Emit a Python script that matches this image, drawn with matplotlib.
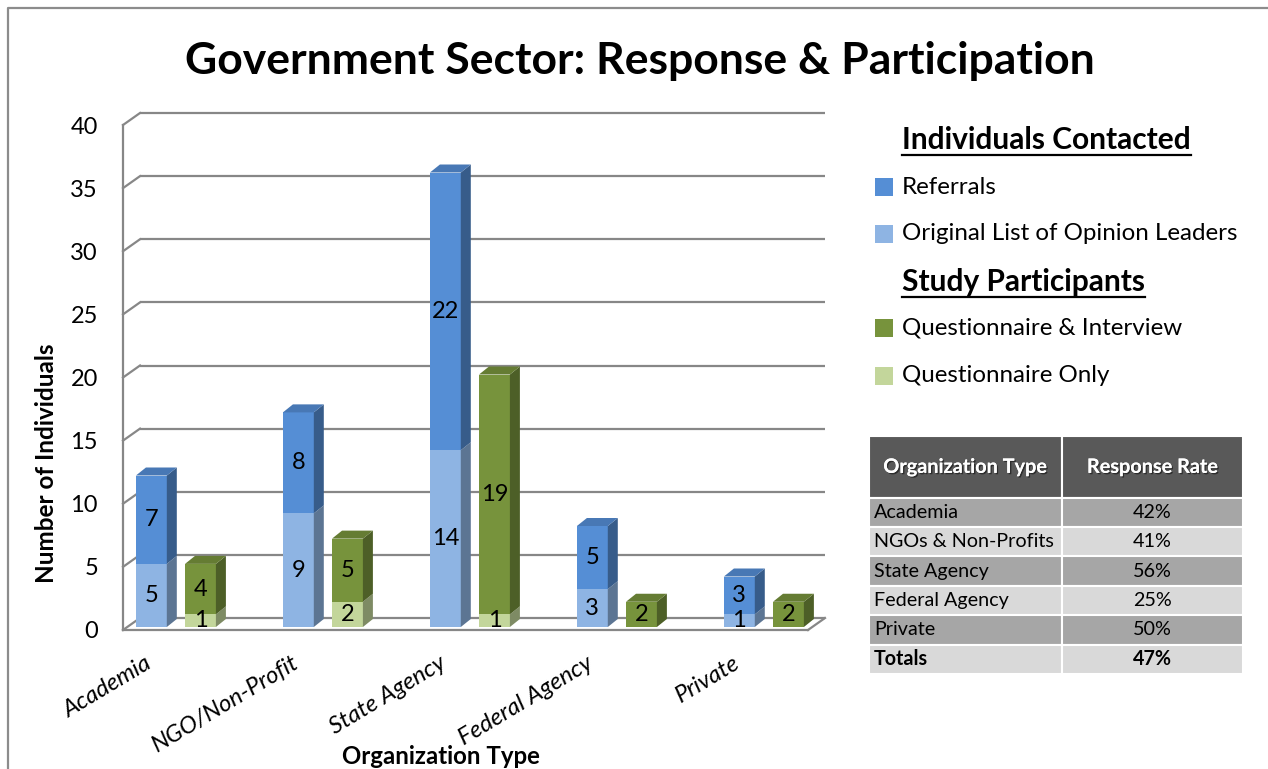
import matplotlib
matplotlib.use("Agg")
import matplotlib.pyplot as plt
from matplotlib.patches import Polygon, Rectangle
from matplotlib.lines import Line2D
from matplotlib.transforms import ScaledTranslation
import matplotlib.patheffects as pe

plt.rcParams['font.family'] = ['Lato', 'DejaVu Sans']

# ---- data -------------------------------------------------------------
categories = ["Academia", "NGO/Non-Profit", "State Agency", "Federal Agency", "Private"]
original_list = [5, 9, 14, 3, 1]          # Original List of Opinion Leaders
referrals = [7, 8, 22, 5, 3]              # Referrals
questionnaire_only = [1, 2, 1, 0, 0]      # Questionnaire Only
questionnaire_interview = [4, 5, 19, 2, 2]  # Questionnaire & Interview

y_ticks = [0, 5, 10, 15, 20, 25, 30, 35, 40]

table_header = ["Organization Type", "Response Rate"]
table_orgs = ["Academia", "NGOs & Non-Profits", "State Agency", "Federal Agency", "Private", "Totals"]
table_rates = ["42%", "41%", "56%", "25%", "50%", "47%"]

# ---- style ------------------------------------------------------------
C_REF = "#558ED5"
C_ORIG = "#8EB4E3"
C_QI = "#77933C"
C_QO = "#C3D69B"
GRID = "#878787"
TEXT = "#000000"


def shade(hex_color, f):
    r, g, b = (int(hex_color[i:i + 2], 16) for i in (1, 3, 5))
    return "#%02x%02x%02x" % (int(r * f), int(g * f), int(b * f))


W, H, DPI = 1268, 769, 100
fig = plt.figure(figsize=(W / DPI, H / DPI), dpi=DPI)
fig.patch.set_facecolor("white")


def fx(px):
    return px / W


def fy(py):
    return 1 - py / H


# outer frame (top and left edges)
fig.add_artist(Line2D([fx(8), fx(8), 1.0], [0.0, fy(8), fy(8)],
                      color="#8c8c8c", lw=1.6, transform=fig.transFigure))

# ---- main 3-D style bar chart ------------------------------------------
ax_l, ax_r, ax_t, ax_b = 123, 808, 125, 630
ax = fig.add_axes([fx(ax_l), fy(ax_b), (ax_r - ax_l) / W, (ax_b - ax_t) / H])
xmin, xmax = -0.36, 4.30
ymin, ymax = 0, 40
ax.set_xlim(xmin, xmax)
ax.set_ylim(ymin, ymax)
for s in ax.spines.values():
    s.set_visible(False)
ax.set_facecolor("none")

px_x = (ax_r - ax_l) / (xmax - xmin)
px_y = (ax_b - ax_t) / (ymax - ymin)
wall_dx, wall_dy = 17 / px_x, 12 / px_y
bar_dx, bar_dy = 10 / px_x, 8 / px_y

glw = 1.6
# back wall gridlines with their diagonal joins to the front axis
for v in y_ticks:
    ax.plot([xmin + wall_dx, xmax + wall_dx], [v + wall_dy, v + wall_dy],
            color=GRID, lw=glw, clip_on=False, zorder=1, solid_capstyle="butt")
    ax.plot([xmin, xmin + wall_dx], [v, v + wall_dy],
            color=GRID, lw=glw, clip_on=False, zorder=1)
# front vertical axis and floor edges
ax.plot([xmin, xmin], [ymin, ymax], color=GRID, lw=glw, clip_on=False, zorder=1)
ax.plot([xmin, xmax], [0, 0], color=GRID, lw=glw, clip_on=False, zorder=1)
ax.plot([xmax, xmax + wall_dx], [0, wall_dy], color=GRID, lw=glw, clip_on=False, zorder=1)

ax.set_yticks(y_ticks)
ax.set_yticklabels([str(v) for v in y_ticks], fontsize=17, color=TEXT)
ax.tick_params(axis="y", length=0, pad=18)

ax.set_xticks(range(len(categories)))
ax.set_xticklabels(categories, rotation=31, ha="right", va="top",
                   rotation_mode="anchor", fontsize=17.2, fontstyle="italic",
                   color=TEXT)
ax.tick_params(axis="x", length=0, pad=16)
for lab in ax.get_xticklabels():
    lab.set_transform(lab.get_transform() +
                      ScaledTranslation(-31 / DPI, 0, fig.dpi_scale_trans))

bar_tr = ax.transData + ScaledTranslation(0, 3 / DPI, fig.dpi_scale_trans)
bw = 0.21
offset = 0.167


def draw_stack(xc, segments):
    """segments: list of (value, colour) from bottom to top."""
    x0, x1 = xc - bw / 2, xc + bw / 2
    bottom = 0
    visible = [(v, c) for v, c in segments if v > 0]
    for k, (v, c) in enumerate(visible):
        top = bottom + v
        ax.bar(xc, v, bw, bottom=bottom, color=c, linewidth=0,
               transform=bar_tr, zorder=3)
        side = Polygon([(x1, bottom), (x1 + bar_dx, bottom + bar_dy),
                        (x1 + bar_dx, top + bar_dy), (x1, top)],
                       closed=True, facecolor=shade(c, 0.65), edgecolor="none",
                       transform=bar_tr, zorder=3, clip_on=False)
        ax.add_patch(side)
        if k == len(visible) - 1:
            cap = Polygon([(x0, top), (x0 + bar_dx, top + bar_dy),
                           (x1 + bar_dx, top + bar_dy), (x1, top)],
                          closed=True, facecolor=shade(c, 0.85), edgecolor="none",
                          transform=bar_tr, zorder=3, clip_on=False)
            ax.add_patch(cap)
        ax.text(xc, bottom + v / 2, str(v), ha="center", va="center",
                fontsize=17, color=TEXT, transform=bar_tr, zorder=4)
        bottom = top


for i in range(len(categories)):
    draw_stack(i - offset, [(original_list[i], C_ORIG), (referrals[i], C_REF)])
    draw_stack(i + offset, [(questionnaire_only[i], C_QO),
                            (questionnaire_interview[i], C_QI)])

# ---- titles -------------------------------------------------------------
fig.text(fx(640), fy(61), "Government Sector: Response & Participation",
         ha="center", va="center", fontsize=32, fontweight="bold", color=TEXT)
fig.text(fx(47), fy(463), "Number of Individuals", rotation=90,
         ha="center", va="center", fontsize=17.5, fontweight="bold", color=TEXT)
fig.text(fx(441), fy(756), "Organization Type",
         ha="center", va="center", fontsize=17.3, fontweight="bold", color=TEXT)

# ---- legend -------------------------------------------------------------
renderer = fig.canvas.get_renderer()


def header(text, py):
    t = fig.text(fx(902), fy(py), text, ha="left", va="center",
                 fontsize=21.5, fontweight="bold", color=TEXT)
    bb = t.get_window_extent(renderer=renderer)
    yline = fy(py + 15)
    fig.add_artist(Line2D([bb.x0 / W, bb.x1 / W], [yline, yline], color=TEXT,
                          lw=1.6, transform=fig.transFigure))


def entry(text, colour, py):
    fig.add_artist(Rectangle((fx(875), fy(py + 9)), 18 / W, 18 / H,
                             facecolor=colour, edgecolor="none",
                             transform=fig.transFigure))
    fig.text(fx(902), fy(py), text, ha="left", va="center",
             fontsize=17.4, color=TEXT)


header("Individuals Contacted", 140)
entry("Referrals", C_REF, 187)
entry("Original List of Opinion Leaders", C_ORIG, 234)
header("Study Participants", 282)
entry("Questionnaire & Interview", C_QI, 328)
entry("Questionnaire Only", C_QO, 376)

# ---- response-rate table ------------------------------------------------
tb_l, tb_r, tb_t, tb_b = 869, 1243, 436, 674
tax = fig.add_axes([fx(tb_l), fy(tb_b), (tb_r - tb_l) / W, (tb_b - tb_t) / H])
head_h = 2.1
n_rows = len(table_orgs)
tax.set_xlim(0, 1)
tax.set_ylim(head_h + n_rows, 0)
tax.axis("off")
split = 193 / (tb_r - tb_l)
cols = [(0, split), (split, 1)]

shadow = [pe.withSimplePatchShadow(offset=(1, -1), shadow_rgbFace="#222222", alpha=0.8),
          pe.Normal()]
for (c0, c1), txt in zip(cols, table_header):
    tax.add_patch(Rectangle((c0, 0), c1 - c0, head_h, facecolor="#595959",
                            edgecolor="white", lw=1.5))
    tax.text((c0 + c1) / 2, head_h / 2, txt, ha="center", va="center",
             fontsize=14.3, fontweight="bold", color="white", path_effects=shadow)

for r, (org, rate) in enumerate(zip(table_orgs, table_rates)):
    y0 = head_h + r
    fill = "#a6a6a6" if r % 2 == 0 else "#d9d9d9"
    bold = "bold" if org == "Totals" else "normal"
    for (c0, c1) in cols:
        tax.add_patch(Rectangle((c0, y0), c1 - c0, 1, facecolor=fill,
                                edgecolor="white", lw=1.5))
    tax.text(0.014, y0 + 0.5, org, ha="left", va="center", fontsize=14.2,
             fontweight=bold, color=TEXT)
    tax.text((split + 1) / 2, y0 + 0.5, rate, ha="center", va="center",
             fontsize=14.2, fontweight=bold, color=TEXT)

fig.savefig("out.png", dpi=DPI)
